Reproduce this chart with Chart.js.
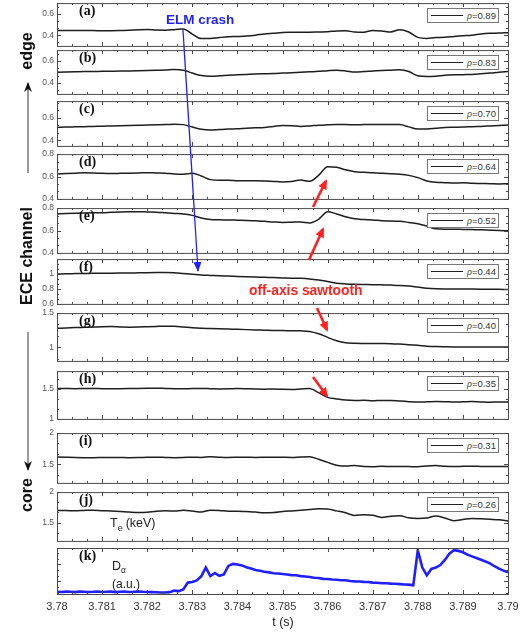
<!DOCTYPE html>
<html>
<head>
<meta charset="utf-8">
<script src="https://cdn.jsdelivr.net/npm/chart.js@4.4.1/dist/chart.umd.min.js"></script>
<style>
  body { margin: 0; background: #fff; }
  #fig { position: relative; width: 528px; height: 634px; overflow: hidden; }
  #fig canvas { position: absolute; left: 0; }
  .leg { position: absolute; left: 427px; width: 70px; height: 13px; border: 1px solid #777; background: #fff;
         font: 9.5px 'Liberation Sans', Arial, sans-serif; color: #333; line-height: 13px; box-sizing: content-box; }
  .leg .ln { position: absolute; left: 3px; top: 6px; width: 32px; border-top: 1.5px solid #222; }
  .leg .tx { position: absolute; left: 39px; top: 0; }
  .leg i { font-size: 8.5px; }
  svg { position: absolute; left: 0; top: 0; }
</style>
</head>
<body>
<div id="fig"></div>
<script>
// time base of the ECE traces (s)
const times = [3.7800,3.7802,3.7804,3.7806,3.7808,3.7810,3.7812,3.7814,3.7816,3.7818,
  3.7820,3.7822,3.7824,3.7826,3.7828,3.7830,3.7832,3.7834,3.7836,3.7838,
  3.7840,3.7842,3.7844,3.7846,3.7848,3.7850,3.7852,3.7854,3.7856,3.7858,
  3.7860,3.7862,3.7864,3.7866,3.7868,3.7870,3.7872,3.7874,3.7876,3.7878,
  3.7880,3.7882,3.7884,3.7886,3.7888,3.7890,3.7892,3.7894,3.7896,3.7898,3.7900]

// time base of D-alpha (s)
const timesDa = [3.7800,3.7801,3.7802,3.7803,3.7804,3.7805,3.7806,3.7807,3.7808,3.7809,
  3.7810,3.7811,3.7812,3.7813,3.7814,3.7815,3.7816,3.7817,3.7818,3.7819,
  3.7820,3.7821,3.7822,3.7823,3.7824,3.7825,3.7826,3.7827,3.7828,3.7829,
  3.7830,3.7831,3.7832,3.7833,3.7834,3.7835,3.7836,3.7837,3.7838,3.7839,
  3.7840,3.7841,3.7842,3.7843,3.7844,3.7845,3.7846,3.7847,3.7848,3.7849,
  3.7850,3.7851,3.7852,3.7853,3.7854,3.7855,3.7856,3.7857,3.7858,3.7859,
  3.7860,3.7861,3.7862,3.7863,3.7864,3.7865,3.7866,3.7867,3.7868,3.7869,
  3.7870,3.7871,3.7872,3.7873,3.7874,3.7875,3.7876,3.7877,3.7878,3.7879,
  3.7880,3.7881,3.7882,3.7883,3.7884,3.7885,3.7886,3.7887,3.7888,3.7889,
  3.7890,3.7891,3.7892,3.7893,3.7894,3.7895,3.7896,3.7897,3.7898,3.7899,3.7900]

// Te (keV) per ECE channel, edge -> core
const teA = [0.445,0.445,0.444,0.443,0.443,0.442,0.442,0.443,0.446,0.450,
  0.453,0.448,0.447,0.452,0.458,0.410,0.368,0.370,0.378,0.385,
  0.388,0.392,0.400,0.412,0.418,0.425,0.427,0.428,0.428,0.430,
  0.432,0.440,0.442,0.430,0.428,0.445,0.440,0.430,0.452,0.430,
  0.380,0.370,0.378,0.380,0.388,0.395,0.400,0.412,0.418,0.420,0.424]
const teB = [0.498,0.500,0.502,0.504,0.505,0.506,0.507,0.508,0.510,0.512,
  0.514,0.516,0.518,0.522,0.516,0.490,0.468,0.462,0.465,0.470,
  0.474,0.478,0.482,0.484,0.486,0.490,0.494,0.498,0.502,0.506,
  0.512,0.516,0.510,0.500,0.504,0.510,0.514,0.517,0.520,0.505,
  0.465,0.458,0.462,0.470,0.474,0.476,0.478,0.484,0.490,0.498,0.504]
const teC = [0.515,0.518,0.520,0.522,0.524,0.526,0.528,0.530,0.532,0.534,
  0.536,0.538,0.540,0.544,0.540,0.518,0.498,0.492,0.496,0.500,
  0.503,0.508,0.512,0.515,0.524,0.532,0.530,0.524,0.528,0.535,
  0.538,0.540,0.540,0.538,0.540,0.542,0.542,0.541,0.540,0.520,
  0.500,0.502,0.508,0.514,0.516,0.518,0.522,0.524,0.528,0.532,0.536]
const teD = [0.622,0.626,0.630,0.634,0.632,0.628,0.626,0.628,0.630,0.632,
  0.634,0.632,0.630,0.622,0.620,0.628,0.605,0.572,0.566,0.566,
  0.563,0.563,0.562,0.560,0.556,0.552,0.555,0.568,0.558,0.610,
  0.688,0.682,0.660,0.643,0.638,0.634,0.628,0.625,0.620,0.610,
  0.590,0.560,0.548,0.545,0.542,0.544,0.540,0.538,0.536,0.534,0.535]
const teE = [0.748,0.752,0.755,0.757,0.758,0.758,0.762,0.766,0.768,0.768,
  0.766,0.764,0.758,0.752,0.748,0.735,0.712,0.698,0.695,0.694,
  0.692,0.690,0.686,0.682,0.676,0.672,0.674,0.676,0.668,0.700,
  0.768,0.748,0.722,0.704,0.698,0.694,0.688,0.684,0.682,0.672,
  0.660,0.640,0.615,0.612,0.612,0.610,0.608,0.606,0.603,0.600,0.598]
const teF = [1.000,1.004,1.006,1.008,1.010,1.011,1.012,1.013,1.014,1.016,
  1.018,1.020,1.022,1.018,1.008,0.998,0.988,0.982,0.976,0.972,
  0.968,0.964,0.960,0.956,0.952,0.948,0.944,0.942,0.935,0.920,
  0.900,0.878,0.868,0.862,0.860,0.858,0.855,0.852,0.848,0.840,
  0.825,0.810,0.802,0.800,0.800,0.799,0.798,0.797,0.796,0.795,0.794]
const teG = [1.278,1.282,1.288,1.292,1.296,1.300,1.302,1.298,1.294,1.296,
  1.300,1.304,1.308,1.306,1.296,1.285,1.278,1.274,1.270,1.266,
  1.262,1.258,1.254,1.250,1.246,1.244,1.242,1.240,1.232,1.198,
  1.145,1.095,1.065,1.058,1.056,1.055,1.054,1.052,1.046,1.038,
  1.028,1.016,1.010,1.007,1.005,1.005,1.005,1.004,1.004,1.004,1.004]
const teH = [1.510,1.508,1.506,1.508,1.510,1.506,1.504,1.506,1.508,1.510,
  1.512,1.514,1.510,1.505,1.504,1.508,1.510,1.506,1.502,1.504,
  1.508,1.505,1.500,1.498,1.500,1.496,1.494,1.500,1.508,1.440,
  1.360,1.335,1.315,1.308,1.312,1.302,1.310,1.310,1.298,1.288,
  1.282,1.285,1.290,1.288,1.282,1.286,1.290,1.284,1.280,1.282,1.282]
const teI = [1.616,1.612,1.608,1.606,1.606,1.608,1.610,1.608,1.606,1.608,
  1.612,1.614,1.610,1.606,1.608,1.614,1.610,1.622,1.614,1.610,
  1.612,1.614,1.610,1.612,1.614,1.612,1.610,1.616,1.620,1.580,
  1.530,1.485,1.470,1.478,1.462,1.460,1.468,1.462,1.464,1.462,
  1.460,1.472,1.478,1.468,1.464,1.466,1.468,1.464,1.462,1.463,1.462]
const teJ = [1.700,1.698,1.694,1.700,1.704,1.696,1.690,1.682,1.672,1.665,
  1.670,1.686,1.694,1.690,1.702,1.690,1.675,1.704,1.700,1.685,
  1.688,1.680,1.672,1.660,1.664,1.682,1.692,1.702,1.714,1.726,
  1.722,1.692,1.660,1.618,1.628,1.620,1.585,1.605,1.612,1.578,
  1.568,1.574,1.610,1.575,1.532,1.550,1.568,1.562,1.554,1.545,1.528]

// D-alpha (a.u.)
const dAlpha = [0.38,0.37,0.39,0.38,0.36,0.39,0.38,0.37,0.38,0.40,
  0.37,0.38,0.39,0.36,0.38,0.39,0.37,0.38,0.40,0.38,
  0.37,0.36,0.35,0.34,0.34,0.36,0.45,0.42,0.52,0.92,
  0.95,1.05,1.30,1.80,1.30,1.48,1.32,1.40,1.90,2.02,
  1.98,1.93,1.82,1.74,1.66,1.62,1.56,1.52,1.47,1.45,
  1.42,1.39,1.36,1.35,1.30,1.28,1.25,1.20,1.19,1.14,
  1.13,1.10,1.09,1.06,1.06,1.01,0.99,0.98,0.96,0.95,
  0.92,0.91,0.88,0.88,0.86,0.85,0.83,0.81,0.80,0.76,
  2.82,1.80,1.35,1.72,1.80,1.95,2.25,2.62,2.82,2.78,
  2.70,2.56,2.46,2.36,2.26,2.16,2.05,1.88,1.74,1.62,1.53]

const rhoLabels = ['0.89', '0.83', '0.70', '0.64', '0.52', '0.44', '0.40', '0.35', '0.31', '0.26']
const panelLetters = ['(a)', '(b)', '(c)', '(d)', '(e)', '(f)', '(g)', '(h)', '(i)', '(j)', '(k)']

const xTickLabels = ['3.78', '3.781', '3.782', '3.783', '3.784', '3.785', '3.786', '3.787', '3.788', '3.789', '3.79']
const yTicksA = [0.4, 0.6]
const yTicksB = [0.4, 0.6]
const yTicksC = [0.4, 0.6]
const yTicksD = [0.4, 0.6, 0.8]
const yTicksE = [0.4, 0.6, 0.8]
const yTicksF = [0.6, 0.8, 1]
const yTicksG = [1, 1.5]
const yTicksH = [1, 1.5]
const yTicksI = [1.5, 2]
const yTicksJ = [1.5, 2]
const yTicksK = [1, 2]

const LINE = '#1e1e1e'
const BLUE = '#1f1fff'
const RED = '#ff2020'

// panel layout (pixels) and axis ranges
const panels = [
    {top: 3,   bottom: 46,  min: 0.3,  max: 0.7,  ticks: yTicksA, t: times,   v: teA},
    {top: 50,  bottom: 94,  min: 0.3,  max: 0.7,  ticks: yTicksB, t: times,   v: teB},
    {top: 101, bottom: 146, min: 0.35, max: 0.75, ticks: yTicksC, t: times,   v: teC},
    {top: 154, bottom: 199, min: 0.4,  max: 0.8,  ticks: yTicksD, t: times,   v: teD},
    {top: 208, bottom: 253, min: 0.4,  max: 0.8,  ticks: yTicksE, t: times,   v: teE},
    {top: 259, bottom: 304, min: 0.6,  max: 1.2,  ticks: yTicksF, t: times,   v: teF},
    {top: 313, bottom: 361, min: 0.8,  max: 1.5,  ticks: yTicksG, t: times,   v: teG},
    {top: 371, bottom: 419, min: 1.0,  max: 1.8,  ticks: yTicksH, t: times,   v: teH},
    {top: 433, bottom: 483, min: 1.2,  max: 2.0,  ticks: yTicksI, t: times,   v: teI},
    {top: 492, bottom: 541, min: 1.2,  max: 2.0,  ticks: yTicksJ, t: times,   v: teJ},
    {top: 548, bottom: 594, min: 0.25, max: 2.95, ticks: yTicksK, t: timesDa, v: dAlpha},
]

const fig = document.getElementById('fig')
const PAD = 8

/**
 * box + inward major/minor ticks, MATLAB style
 */
const framePlugin = {
    id: 'frame',
    afterDatasetsDraw(chart, args, opts) {
        const {ctx, chartArea: a, scales: {x, y}} = chart
        ctx.save()
        ctx.strokeStyle = '#4a4a4a'
        ctx.lineWidth = 1
        ctx.strokeRect(a.left + 0.5, a.top + 0.5, a.right - a.left, a.bottom - a.top)
        ctx.beginPath()
        const xMajor = xTickLabels.map(Number)
        for (let i = 0; i < xMajor.length; i++) {
            for (let k = 0; k < 3; k++) {
                if (i === xMajor.length - 1 && k > 0) break
                const px = Math.round(x.getPixelForValue(xMajor[i] + k * 0.001 / 3)) + 0.5
                const len = k === 0 ? 4 : 2
                ctx.moveTo(px, a.top); ctx.lineTo(px, a.top + len)
                ctx.moveTo(px, a.bottom); ctx.lineTo(px, a.bottom - len)
            }
        }
        const major = opts.ticks
        const step = major[1] - major[0]
        const minors = []
        for (let v = major[0] - step / 3; v > y.min; v -= step / 3) minors.push(v)
        for (let v = major[0] + step / 3; v < y.max; v += step / 3) minors.push(v)
        minors.forEach(v => {
            const isMajor = major.some(m => Math.abs(m - v) < step / 10)
            const py = Math.round(y.getPixelForValue(v)) + 0.5
            const len = isMajor ? 4 : 2
            ctx.moveTo(a.left, py); ctx.lineTo(a.left + len, py)
            ctx.moveTo(a.right, py); ctx.lineTo(a.right - len, py)
        })
        major.forEach(v => {
            const py = Math.round(y.getPixelForValue(v)) + 0.5
            ctx.moveTo(a.left, py); ctx.lineTo(a.left + 4, py)
            ctx.moveTo(a.right, py); ctx.lineTo(a.right - 4, py)
        })
        ctx.stroke()
        ctx.restore()
    }
}

panels.forEach((p, idx) => {
    const last = idx === panels.length - 1
    const canvas = document.createElement('canvas')
    const h = (p.bottom - p.top) + PAD + (last ? 22 : PAD)
    canvas.width = 528
    canvas.height = h
    canvas.style.top = (p.top - PAD) + 'px'
    fig.appendChild(canvas)

    new Chart(canvas, {
        type: 'line',
        data: {
            datasets: [{
                data: p.t.map((t, i) => ({x: t, y: p.v[i]})),
                borderColor: last ? BLUE : LINE,
                borderWidth: last ? 2.6 : 1.5,
                pointRadius: 0,
                tension: last ? 0 : 0.4,
                cubicInterpolationMode: last ? 'default' : 'monotone',
            }]
        },
        options: {
            responsive: false,
            animation: false,
            events: [],
            layout: {padding: {left: 0, right: 20, top: PAD, bottom: last ? 0 : PAD}},
            plugins: {
                legend: {display: false},
                tooltip: {enabled: false},
                frame: {ticks: p.ticks},
            },
            scales: {
                x: {
                    type: 'linear',
                    min: 3.78,
                    max: 3.79,
                    display: last,
                    grid: {display: false, drawTicks: false},
                    border: {display: false},
                    ticks: {
                        autoSkip: false,
                        maxRotation: 0,
                        padding: 6,
                        color: '#333',
                        font: {family: "'Liberation Sans', Arial, sans-serif", size: 11},
                        callback: (v, i) => xTickLabels[i],
                    },
                    afterBuildTicks: s => { s.ticks = xTickLabels.map(l => ({value: Number(l)})) },
                    afterFit: s => { s.height = last ? 22 : 0 },
                },
                y: {
                    min: p.min,
                    max: p.max,
                    grid: {display: false, drawTicks: false},
                    border: {display: false},
                    ticks: {
                        display: !last,
                        padding: 3,
                        color: '#555',
                        font: {family: "'Liberation Sans', Arial, sans-serif", size: 8.5},
                        callback: v => String(v),
                    },
                    afterBuildTicks: s => { s.ticks = p.ticks.map(v => ({value: v})) },
                    afterFit: s => { s.width = 57 },
                },
            },
        },
        plugins: [framePlugin],
    })

    if (!last) {
        const leg = document.createElement('div')
        leg.className = 'leg'
        leg.style.top = (p.top + 5) + 'px'
        leg.innerHTML = '<span class="ln"></span><span class="tx"><i>\u03c1</i>=' + rhoLabels[idx] + '</span>'
        fig.appendChild(leg)
    }
})

// annotations
const NS = 'http://www.w3.org/2000/svg'
const svg = document.createElementNS(NS, 'svg')
svg.setAttribute('width', 528)
svg.setAttribute('height', 634)
fig.appendChild(svg)

svg.innerHTML = `
<defs>
  <marker id="hb" markerUnits="userSpaceOnUse" markerWidth="10" markerHeight="8" refX="9" refY="4" orient="auto">
    <path d="M0,0 L10,4 L0,8 z" fill="${BLUE}"/></marker>
  <marker id="hr" markerUnits="userSpaceOnUse" markerWidth="10" markerHeight="9" refX="8" refY="4.5" orient="auto">
    <path d="M0,0 L10,4.5 L0,9 z" fill="${RED}"/></marker>
  <marker id="hk" markerUnits="userSpaceOnUse" markerWidth="10" markerHeight="8" refX="9" refY="4" orient="auto">
    <path d="M0,0 L10,4 L0,8 L3,4 z" fill="#111"/></marker>
</defs>
<g font-family="'Liberation Sans', Arial, sans-serif">
  <text x="166" y="23.5" font-size="13.5" font-weight="bold" fill="${BLUE}">ELM crash</text>
  <text x="249" y="295" font-size="13.8" font-weight="bold" fill="${RED}">off-axis sawtooth</text>
  <text x="32" y="51" font-size="16" font-weight="bold" fill="#111" text-anchor="middle" transform="rotate(-90 32 51)">edge</text>
  <text x="32" y="256" font-size="16" font-weight="bold" fill="#111" text-anchor="middle" transform="rotate(-90 32 256)">ECE channel</text>
  <text x="32" y="495" font-size="16" font-weight="bold" fill="#111" text-anchor="middle" transform="rotate(-90 32 495)">core</text>
  <text x="110" y="527" font-size="12.5" fill="#222">T<tspan dy="4" font-size="9">e</tspan><tspan dy="-4" dx="3">(keV)</tspan></text>
  <text x="112" y="570" font-size="12.5" fill="#222">D<tspan dy="3" font-size="8.5">\u03b1</tspan></text>
  <text x="112" y="588" font-size="12" fill="#222">(a.u.)</text>
  <text x="283" y="626" font-size="12.5" fill="#222" text-anchor="middle">t (s)</text>
</g>
<line x1="183" y1="30" x2="198" y2="271" stroke="${BLUE}" stroke-width="1.3" marker-end="url(#hb)"/>
<line x1="313" y1="207" x2="326" y2="181" stroke="${RED}" stroke-width="2.6" marker-end="url(#hr)"/>
<line x1="309" y1="260" x2="323" y2="229" stroke="${RED}" stroke-width="2.6" marker-end="url(#hr)"/>
<line x1="317" y1="308" x2="327" y2="330" stroke="${RED}" stroke-width="2.6" marker-end="url(#hr)"/>
<line x1="313" y1="377" x2="327" y2="396" stroke="${RED}" stroke-width="2.6" marker-end="url(#hr)"/>
<line x1="28" y1="173" x2="28" y2="83" stroke="#555" stroke-width="1.2" marker-end="url(#hk)"/>
<line x1="28" y1="332" x2="28" y2="470" stroke="#555" stroke-width="1.2" marker-end="url(#hk)"/>
`

// panel letters, serif bold like the original
panels.forEach((p, idx) => {
    const t = document.createElementNS(NS, 'text')
    t.setAttribute('x', 79)
    t.setAttribute('y', p.top + 11.5)
    t.setAttribute('font-family', "'Liberation Serif', 'Times New Roman', serif")
    t.setAttribute('font-size', 14)
    t.setAttribute('font-weight', 'bold')
    t.setAttribute('fill', '#111')
    t.textContent = panelLetters[idx]
    svg.appendChild(t)
})
</script>
</body>
</html>
